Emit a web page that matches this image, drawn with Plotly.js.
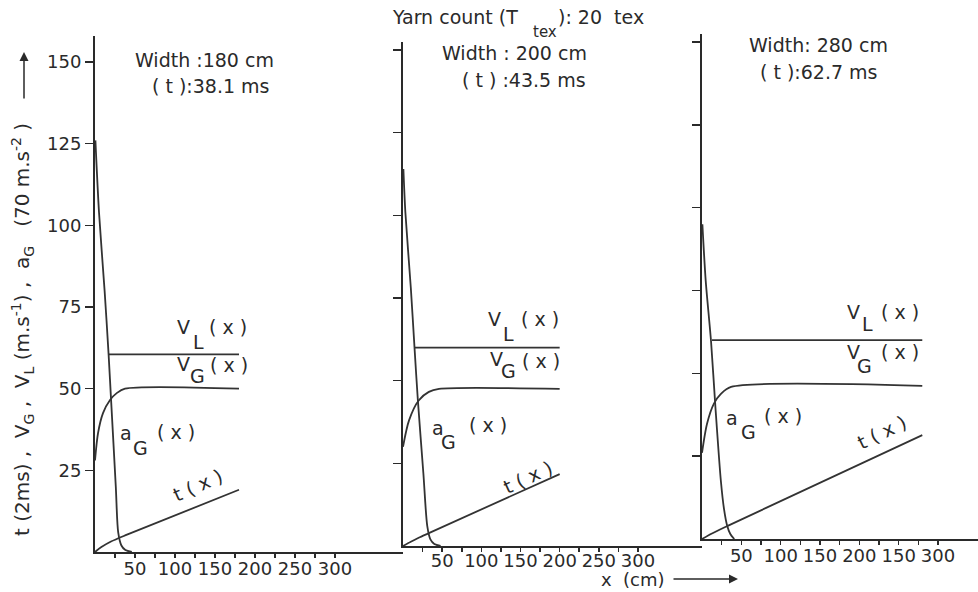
<!DOCTYPE html>
<html>
<head>
<meta charset="utf-8">
<script src="https://cdn.plot.ly/plotly-3.0.1.min.js"></script>
<style>html,body{margin:0;padding:0;background:#fff;}#chart{width:978px;height:592px;}</style>
</head>
<body>
<div id="chart"></div>
<script>
// ---------- data ----------
const xTickVals = [25, 50, 75, 100, 125, 150, 175, 200, 225, 250, 275, 300];
const xTickText12 = ['', '50', '', '100', '', '150', '', '200', '', '250', '', '300'];
const xTickText3 = ['', '50', '', '100', '', '150', '', '200', '', '150', '', '300'];
const yTickVals = [25, 50, 75, 100, 125, 150];
const yTickText = ['25', '50', '75', '100', '125', '150'];

// Panel 1 : width 180 cm
const vl1X = [17, 180];            const vl1Y = [60.5, 60.5];
const vg1X = [0, 3.8, 10, 18.8, 27.5, 37.5, 180];
const vg1Y = [28, 36.4, 42.5, 46.5, 48.7, 50, 50];
const ag1X = [0.5, 5, 12, 17, 20, 26, 29, 33, 38, 46];
const ag1Y = [126, 104, 80, 60.5, 47, 20, 6, 2, 0.6, 0];
const t1X = [0, 8, 20, 40, 180];   const t1Y = [0, 1.5, 3.2, 5.3, 19.05];

// Panel 2 : width 200 cm
const vl2X = [14.7, 200];          const vl2Y = [60, 60];
const vg2X = [0, 7.7, 20, 33, 46, 200];
const vg2Y = [30, 38, 44, 46.6, 47.5, 47.5];
const ag2X = [0.5, 3, 10, 14.7, 19, 26, 31, 35, 40, 48];
const ag2Y = [114, 101, 78, 60, 44, 22, 6, 2, 0.6, 0];
const t2X = [0, 10, 20, 33, 200];  const t2Y = [0, 1.3, 2.5, 3.9, 21.75];

// Panel 3 : width 280 cm
const vl3X = [12.7, 280];          const vl3Y = [60, 60];
const vg3X = [0, 6.4, 15, 24, 37, 280];
const vg3Y = [26, 34.8, 40.8, 43.8, 45.9, 46.2];
const ag3X = [0.5, 4.7, 11.5, 17, 24, 28, 32, 36, 41];
const ag3Y = [95, 78, 59.6, 40, 17.5, 9, 4, 1.5, 0];
const t3X = [0, 12, 32, 280];      const t3Y = [0, 1.6, 3.9, 31.35];

// ---------- helpers ----------
const W = 978, H = 592;
const px = v => v / W;
const py = v => 1 - v / H;
const INK = '#2a2a2a';
const NB = '\u00a0';
const lineStyle = {color: '#333333', width: 1.8};

function tr(x, y, xa, ya, spline) {
  return {x: x, y: y, xaxis: xa, yaxis: ya, type: 'scatter', mode: 'lines',
    line: Object.assign({}, lineStyle, spline ? {shape: 'spline', smoothing: 0.8} : {}),
    hoverinfo: 'skip', cliponaxis: false};
}

const data = [
  tr(vl1X, vl1Y, 'x', 'y'), tr(vg1X, vg1Y, 'x', 'y', true), tr(ag1X, ag1Y, 'x', 'y', true), tr(t1X, t1Y, 'x', 'y', true),
  tr(vl2X, vl2Y, 'x2', 'y2'), tr(vg2X, vg2Y, 'x2', 'y2', true), tr(ag2X, ag2Y, 'x2', 'y2', true), tr(t2X, t2Y, 'x2', 'y2', true),
  tr(vl3X, vl3Y, 'x3', 'y3'), tr(vg3X, vg3Y, 'x3', 'y3', true), tr(ag3X, ag3Y, 'x3', 'y3', true), tr(t3X, t3Y, 'x3', 'y3', true)
];

function xax(dom, rng, anchor, ticktext, standoff) {
  return {domain: dom, range: rng, anchor: anchor, showline: true, linewidth: 2, linecolor: INK,
    ticks: 'outside', ticklen: 4, tickwidth: 1.5, tickcolor: INK, ticklabelstandoff: standoff,
    tickmode: 'array', tickvals: xTickVals, ticktext: ticktext,
    showgrid: false, zeroline: false, fixedrange: true,
    tickfont: {family: 'DejaVu Sans', size: 18, color: INK}};
}
function yax(dom, rng, anchor, labels) {
  return {domain: dom, range: rng, anchor: anchor, showline: true, linewidth: 2, linecolor: INK,
    ticks: 'outside', ticklen: 8, tickwidth: 1.5, tickcolor: INK,
    tickmode: 'array', tickvals: yTickVals, ticktext: yTickText, showticklabels: labels,
    showgrid: false, zeroline: false, fixedrange: true,
    tickfont: {family: 'DejaVu Sans', size: 18, color: INK}};
}

function t(text, x, y, opt) {
  return Object.assign({text: text, x: px(x), y: py(y), xref: 'paper', yref: 'paper',
    showarrow: false, xanchor: 'center', yanchor: 'middle',
    font: {family: 'DejaVu Sans', size: 19, color: INK}}, opt || {});
}
const L = {xanchor: 'left'};

const yTitle = 't (2ms)' + NB + ',' + NB + NB + 'V<sub>G</sub>' + NB + ',' + NB + NB + 'V<sub>L</sub>' + NB +
  '(m.s<sup>-1</sup>)' + NB + ',' + NB + NB + 'a<sub>G</sub>' + NB + NB + NB + '(70 m.s<sup>-2</sup>' + NB + ')';

const annotations = [
  // title
  t('Yarn count (T', 390, 17, L),
  t('tex', 545, 32, {font: {family: 'DejaVu Sans', size: 15, color: INK}}),
  t('): 20' + NB + NB + 'tex', 556, 17, L),
  // panel headers
  t('Width :180 cm', 133, 60, L),
  t('( t ):38.1 ms', 150, 86, L),
  t('Width : 200 cm', 440, 53, L),
  t('( t ) :43.5 ms', 460, 80, L),
  t('Width: 280 cm', 747, 45, L),
  t('( t ):62.7 ms', 758, 72, L),
  // panel 1 curve labels
  t('V', 183, 327), t('L', 198, 342), t('( x )', 228, 327),
  t('V', 183, 364), t('G', 197, 376), t('( x )', 229, 365),
  t('a', 126, 433), t('G', 140, 448), t('( x )', 176, 432),
  t('t ( x )', 198, 485, {textangle: -24}),
  // panel 2 curve labels
  t('V', 495, 319), t('L', 509, 334), t('( x )', 540, 319),
  t('V', 496, 359), t('G', 508, 371), t('( x )', 541, 361),
  t('a', 438, 428), t('G', 448, 442), t('( x )', 488, 425),
  t('t ( x )', 528, 477, {textangle: -25}),
  // panel 3 curve labels
  t('V', 853, 312), t('L', 867, 324), t('( x )', 900, 312),
  t('V', 853, 352), t('G', 864, 366), t('( x )', 900, 352),
  t('a', 732, 418), t('G', 748, 432), t('( x )', 783, 416),
  t('t ( x )', 882, 432, {textangle: -26}),
  // axis titles
  t('x' + NB + NB + '(cm)', 633, 579, {font: {family: 'DejaVu Sans', size: 18, color: INK}}),
  t(yTitle, 22, 330, {textangle: -90, font: {family: 'DejaVu Sans', size: 20, color: INK}}),
  // arrows
  {text: '', x: px(24), y: py(52), xref: 'paper', yref: 'paper', showarrow: true, ax: 0, ay: 48,
    arrowhead: 2, arrowsize: 1.2, arrowwidth: 1.5, arrowcolor: INK},
  {text: '', x: px(738), y: py(579), xref: 'paper', yref: 'paper', showarrow: true, ax: -66, ay: 0,
    arrowhead: 2, arrowsize: 1.2, arrowwidth: 1.5, arrowcolor: INK}
];

const layout = {
  width: W, height: H, margin: {l: 0, r: 0, t: 0, b: 0},
  paper_bgcolor: '#ffffff', plot_bgcolor: 'rgba(0,0,0,0)', showlegend: false,
  font: {family: 'DejaVu Sans', size: 18, color: INK},
  xaxis:  xax([95 / W, 403 / W], [0, 308 / 0.8], 'y', xTickText12, -5),
  xaxis2: xax([403 / W, 702 / W], [0, 299 / 0.7833], 'y2', xTickText12, -7),
  xaxis3: xax([702 / W, 1], [0, 276 / 0.7867], 'y3', xTickText3, -5),
  yaxis:  yax([py(552), py(36)], [0, (552 - 36) / 3.267], 'x', true),
  yaxis2: yax([py(546), py(42)], [0, 504 / 3.307], 'x2', false),
  yaxis3: yax([py(539), py(34)], [0, 505 / 3.313], 'x3', false),
  annotations: annotations
};

Plotly.newPlot('chart', data, layout, {displayModeBar: false, staticPlot: true});
</script>
</body>
</html>
